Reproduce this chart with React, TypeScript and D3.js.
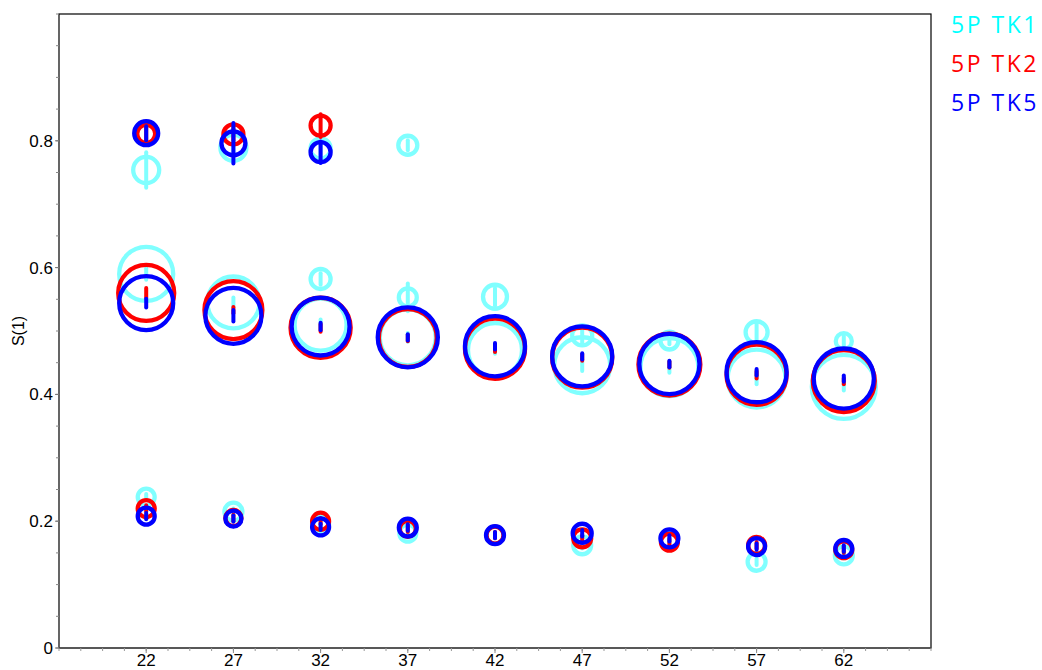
import React from "react";
import * as d3 from "d3";

// Sample positions along the x axis
const xValues = [22, 27, 32, 37, 42, 47, 52, 57, 62];

// Series labels and colours
const seriesNames = ["5P TK1", "5P TK2", "5P TK5"];
const markerColors = ["#80ffff", "#ff0000", "#0000ff"];
const legendColors = ["#00ffff", "#ff0000", "#0000ff"];

// 5P TK1 — upper, shoulder, main and low branches (S(1), half error, weight)
const tk1Upper = [0.754, 0.789, 0.788, 0.793, null, null, null, null, null];
const tk1UpperErr = [0.028, 0.012, 0.01, 0.008, 0, 0, 0, 0, 0];
const tk1UpperW = [0.155, 0.155, 0.092, 0.083, 0, 0, 0, 0, 0];
const tk1Shoulder = [null, null, 0.582, 0.553, 0.554, 0.493, 0.485, 0.498, 0.484];
const tk1ShoulderErr = [0, 0, 0.009, 0.022, 0.014, 0.011, 0.006, 0.016, 0.008];
const tk1ShoulderW = [0, 0, 0.092, 0.074, 0.132, 0.092, 0.074, 0.111, 0.059];
const tk1Main = [0.59, 0.545, 0.51, 0.49, 0.47, 0.446, 0.443, 0.425, 0.412];
const tk1MainErr = [0.009, 0.008, 0.008, 0.007, 0.006, 0.009, 0.009, 0.009, 0.006];
const tk1MainW = [0.67, 0.62, 0.62, 0.72, 0.67, 0.72, 0.77, 0.77, 0.94];
const tk1Low = [0.238, 0.215, 0.195, 0.181, 0.178, 0.162, 0.17, 0.136, 0.146];
const tk1LowErr = [0.005, 0.005, 0.005, 0.005, 0.005, 0.005, 0.005, 0.005, 0.005];
const tk1LowW = [0.066, 0.074, 0.066, 0.066, 0.066, 0.074, 0.066, 0.074, 0.074];

// 5P TK2 — upper, main and low branches
const tk2Upper = [0.811, 0.81, 0.824, null, null, null, null, null, null];
const tk2UpperErr = [0.01, 0.01, 0.018, 0, 0, 0, 0, 0, 0];
const tk2UpperW = [0.074, 0.092, 0.092, 0, 0, 0, 0, 0, 0];
const tk2Main = [0.56, 0.533, 0.505, 0.489, 0.472, 0.458, 0.447, 0.431, 0.421];
const tk2MainErr = [0.008, 0.005, 0.006, 0.005, 0.005, 0.005, 0.005, 0.006, 0.005];
const tk2MainW = [0.72, 0.77, 0.83, 0.77, 0.83, 0.83, 0.88, 0.83, 0.88];
const tk2Low = [0.22, 0.205, 0.2, 0.188, 0.178, 0.173, 0.167, 0.162, 0.155];
const tk2LowErr = [0.005, 0.005, 0.005, 0.005, 0.005, 0.005, 0.005, 0.005, 0.005];
const tk2LowW = [0.066, 0.059, 0.066, 0.059, 0.066, 0.074, 0.066, 0.066, 0.066];

// 5P TK5 — upper, main and low branches
const tk5Upper = [0.812, 0.796, 0.782, null, null, null, null, null, null];
const tk5UpperErr = [0.011, 0.032, 0.017, 0, 0, 0, 0, 0, 0];
const tk5UpperW = [0.132, 0.132, 0.092, 0, 0, 0, 0, 0, 0];
const tk5Main = [0.544, 0.524, 0.507, 0.49, 0.476, 0.46, 0.448, 0.435, 0.425];
const tk5MainErr = [0.007, 0.009, 0.006, 0.005, 0.005, 0.005, 0.005, 0.005, 0.005];
const tk5MainW = [0.67, 0.72, 0.77, 0.83, 0.83, 0.83, 0.83, 0.83, 0.83];
const tk5Low = [0.208, 0.204, 0.191, 0.19, 0.178, 0.181, 0.173, 0.16, 0.157];
const tk5LowErr = [0.005, 0.005, 0.005, 0.005, 0.005, 0.005, 0.005, 0.005, 0.005];
const tk5LowW = [0.066, 0.059, 0.066, 0.074, 0.074, 0.083, 0.074, 0.066, 0.066];

// Axis ticks
const xTickLabels = [22, 27, 32, 37, 42, 47, 52, 57, 62];
const yTickLabels = [0, 0.2, 0.4, 0.6, 0.8];

type Branch = { values: (number | null)[]; errs: number[]; weights: number[] };

const seriesBranches: Branch[][] = [
  [
    { values: tk1Upper, errs: tk1UpperErr, weights: tk1UpperW },
    { values: tk1Shoulder, errs: tk1ShoulderErr, weights: tk1ShoulderW },
    { values: tk1Main, errs: tk1MainErr, weights: tk1MainW },
    { values: tk1Low, errs: tk1LowErr, weights: tk1LowW },
  ],
  [
    { values: tk2Upper, errs: tk2UpperErr, weights: tk2UpperW },
    { values: tk2Main, errs: tk2MainErr, weights: tk2MainW },
    { values: tk2Low, errs: tk2LowErr, weights: tk2LowW },
  ],
  [
    { values: tk5Upper, errs: tk5UpperErr, weights: tk5UpperW },
    { values: tk5Main, errs: tk5MainErr, weights: tk5MainW },
    { values: tk5Low, errs: tk5LowErr, weights: tk5LowW },
  ],
];

const W = 1042;
const H = 670;
const plot = { left: 59, right: 931, top: 14, bottom: 648 };

export default function App() {
  const x = d3.scaleLinear().domain([17, 67]).range([plot.left, plot.right]);
  const y = d3.scaleLinear().domain([0, 1]).range([plot.bottom, plot.top]);
  const r = d3.scaleSqrt().domain([0, 1]).range([0, 33]);

  const xMinor = d3.range(17, 67.001, 1.25);
  const yMinor = d3.range(0, 1.0001, 0.05);
  const font = "'Liberation Sans', Arial, sans-serif";

  return (
    <svg
      width={W}
      height={H}
      style={{ position: "absolute", left: 0, top: 0, background: "#fff" }}
    >
      {/* frame */}
      <rect
        x={plot.left}
        y={plot.top}
        width={plot.right - plot.left}
        height={plot.bottom - plot.top}
        fill="none"
        stroke="#000"
        strokeWidth={1.2}
      />

      {/* y axis ticks */}
      {yMinor.map((v, i) => (
        <line
          key={"ym" + i}
          x1={plot.left - 3}
          x2={plot.left}
          y1={y(v)}
          y2={y(v)}
          stroke="#888"
          strokeWidth={1}
        />
      ))}
      {yTickLabels.map((v) => (
        <g key={"yt" + v}>
          <line x1={plot.left - 4} x2={plot.left} y1={y(v)} y2={y(v)} stroke="#777" strokeWidth={1} />
          <text
            x={plot.left - 6}
            y={y(v)}
            dy="0.35em"
            textAnchor="end"
            fontFamily={font}
            fontSize={17}
            fill="#000"
          >
            {v === 0 ? "0" : d3.format(".1f")(v)}
          </text>
        </g>
      ))}

      {/* x axis */}
      <line
        x1={plot.left}
        x2={plot.right}
        y1={plot.bottom}
        y2={plot.bottom}
        stroke="#555"
        strokeWidth={1.5}
      />
      {xMinor.map((v, i) => (
        <line
          key={"xm" + i}
          x1={x(v)}
          x2={x(v)}
          y1={plot.bottom}
          y2={plot.bottom + 3}
          stroke="#999"
          strokeWidth={1}
        />
      ))}
      {xTickLabels.map((v) => (
        <g key={"xt" + v}>
          <line x1={x(v)} x2={x(v)} y1={plot.bottom} y2={plot.bottom + 5} stroke="#888" strokeWidth={1} />
          <text
            x={x(v)}
            y={666}
            textAnchor="middle"
            fontFamily={font}
            fontSize={17}
            fill="#000"
          >
            {v}
          </text>
        </g>
      ))}

      {/* y axis title */}
      <text
        transform={`translate(24, ${(plot.top + plot.bottom) / 2}) rotate(-90)`}
        textAnchor="middle"
        fontFamily={font}
        fontSize={16}
        fill="#000"
      >
        S(1)
      </text>

      {/* markers: ring per branch plus a vertical error bar */}
      {seriesBranches.map((branches, si) => (
        <g key={"s" + si}>
          {branches.map((b, bi) =>
            b.values.map((v, i) =>
              v == null ? null : (
                <g key={`p${si}-${bi}-${i}`}>
                  <circle
                    cx={x(xValues[i])}
                    cy={y(v)}
                    r={r(b.weights[i])}
                    fill="none"
                    stroke={markerColors[si]}
                    strokeWidth={4.3}
                  />
                  <line
                    x1={x(xValues[i])}
                    x2={x(xValues[i])}
                    y1={y(v - b.errs[i])}
                    y2={y(v + b.errs[i])}
                    stroke={markerColors[si]}
                    strokeWidth={4}
                    strokeLinecap="round"
                  />
                </g>
              )
            )
          )}
        </g>
      ))}

      {/* legend */}
      {seriesNames.map((name, i) => (
        <text
          key={name}
          x={951}
          y={33 + i * 39}
          fontFamily="'Open Sans', sans-serif"
          fontSize={23}
          letterSpacing={2.5}
          fill={legendColors[i]}
        >
          {name}
        </text>
      ))}
    </svg>
  );
}
